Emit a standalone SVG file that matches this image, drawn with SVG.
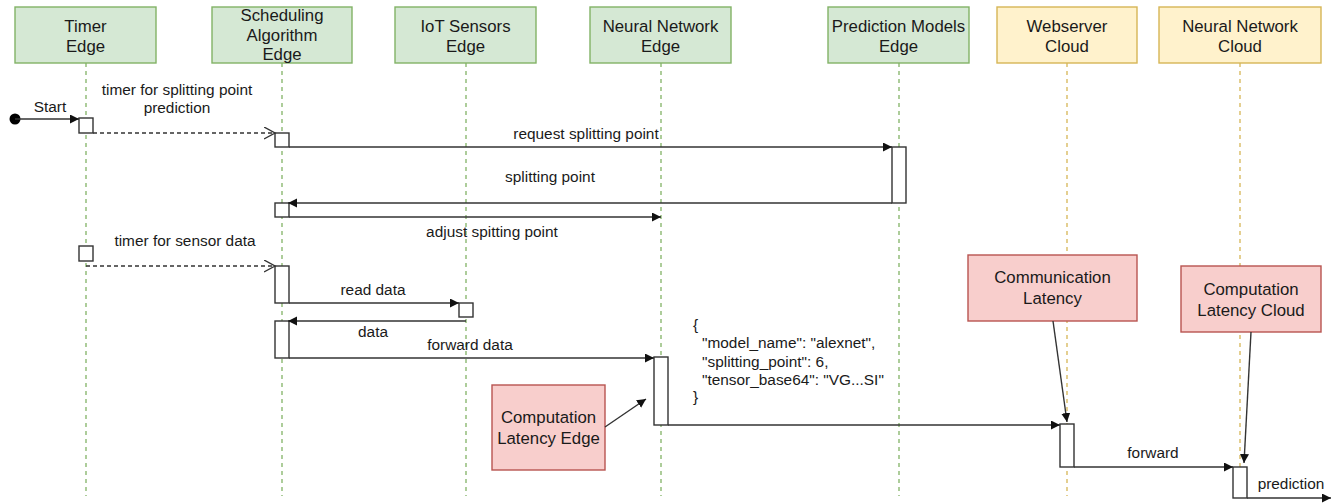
<svg xmlns="http://www.w3.org/2000/svg" width="1332" height="504" viewBox="0 0 1332 504">
<style>
text{font-family:"Liberation Sans",Arial,Helvetica,sans-serif;fill:#1a1a1a;text-anchor:middle}
.h{font-size:16.8px}
.l{font-size:15.4px}
.j{font-size:15.4px;text-anchor:start}
.ge{fill:#d5e8d4;stroke:#82b366;stroke-width:1.4}
.yc{fill:#fff2cc;stroke:#d6b656;stroke-width:1.4}
.rd{fill:#f8cecc;stroke:#b85450;stroke-width:1.4}
.lg{stroke:#82b366;stroke-width:1.3;stroke-dasharray:4 4;fill:none}
.ly{stroke:#d6b656;stroke-width:1.3;stroke-dasharray:4 4;fill:none}
.act{fill:#fff;stroke:#333;stroke-width:1.4}
.m{stroke:#333;stroke-width:1.4;fill:none;marker-end:url(#blk)}
.d{stroke:#333;stroke-width:1.4;fill:none;stroke-dasharray:4 3;marker-end:url(#opn)}
</style>
<defs>
<marker id="blk" markerUnits="userSpaceOnUse" markerWidth="10" markerHeight="10" refX="9" refY="4.5" orient="auto">
<path d="M0,0 L9,4.5 L0,9 Z" fill="#111"/>
</marker>
<marker id="opn" markerUnits="userSpaceOnUse" markerWidth="14" markerHeight="14" refX="11" refY="6.5" orient="auto">
<path d="M0,0.5 L11,6.5 L0,12.5" fill="none" stroke="#333" stroke-width="1.4"/>
</marker>
</defs>
<rect width="1332" height="504" fill="#fff"/>

<g id="timer-edge">
<line class="lg" x1="86" y1="63" x2="86" y2="496"/>
<rect class="ge" x="15" y="7" width="141" height="56"/>
<text class="h" x="85.5" y="32">Timer</text>
<text class="h" x="85.5" y="51.5">Edge</text>
</g>
<g id="scheduling-edge">
<line class="lg" x1="282" y1="63" x2="282" y2="496"/>
<rect class="ge" x="212" y="7" width="140" height="56"/>
<text class="h" x="282" y="21">Scheduling</text>
<text class="h" x="282" y="40.5">Algorithm</text>
<text class="h" x="282" y="60">Edge</text>
</g>
<g id="iot-edge">
<line class="lg" x1="466" y1="63" x2="466" y2="496"/>
<rect class="ge" x="395" y="7" width="141" height="56"/>
<text class="h" x="465.5" y="32">IoT Sensors</text>
<text class="h" x="465.5" y="51.5">Edge</text>
</g>
<g id="nn-edge">
<line class="lg" x1="661" y1="63" x2="661" y2="496"/>
<rect class="ge" x="590" y="7" width="141" height="56"/>
<text class="h" x="660.5" y="32">Neural Network</text>
<text class="h" x="660.5" y="51.5">Edge</text>
</g>
<g id="prediction-edge">
<line class="lg" x1="899" y1="63" x2="899" y2="496"/>
<rect class="ge" x="828" y="7" width="141" height="56"/>
<text class="h" x="898.5" y="32">Prediction Models</text>
<text class="h" x="898.5" y="51.5">Edge</text>
</g>
<g id="webserver-cloud">
<line class="ly" x1="1067" y1="63" x2="1067" y2="496"/>
<rect class="yc" x="997" y="7" width="140" height="56"/>
<text class="h" x="1067" y="32">Webserver</text>
<text class="h" x="1067" y="51.5">Cloud</text>
</g>
<g id="nn-cloud">
<line class="ly" x1="1240" y1="63" x2="1240" y2="496"/>
<rect class="yc" x="1159" y="7" width="162" height="56"/>
<text class="h" x="1240" y="32">Neural Network</text>
<text class="h" x="1240" y="51.5">Cloud</text>
</g>

<g id="activations">
<rect class="act" x="79" y="118" width="14" height="15"/>
<rect class="act" x="275" y="133" width="14" height="14"/>
<rect class="act" x="892" y="147" width="14" height="56"/>
<rect class="act" x="275" y="203" width="14" height="14"/>
<rect class="act" x="79" y="246" width="14" height="15"/>
<rect class="act" x="275" y="266" width="14" height="37"/>
<rect class="act" x="459" y="303" width="14" height="14"/>
<rect class="act" x="275" y="321" width="14" height="37"/>
<rect class="act" x="654" y="357" width="14" height="68"/>
<rect class="act" x="1060" y="424" width="14" height="43"/>
<rect class="act" x="1233" y="467" width="14" height="31"/>
</g>

<g id="note-comp-edge">
<rect class="rd" x="492" y="385" width="113" height="85"/>
<text class="h" x="548.5" y="423">Computation</text>
<text class="h" x="548.5" y="444">Latency Edge</text>
</g>
<g id="note-comm">
<rect class="rd" x="968" y="255" width="169" height="66"/>
<text class="h" x="1052.5" y="283">Communication</text>
<text class="h" x="1052.5" y="304">Latency</text>
</g>
<g id="note-comp-cloud">
<rect class="rd" x="1181" y="266" width="140" height="66"/>
<text class="h" x="1251" y="295">Computation</text>
<text class="h" x="1251" y="316">Latency Cloud</text>
</g>

<g id="json">
<text class="j" x="693" y="330">{</text>
<text class="j" x="702" y="348">"model_name": "alexnet",</text>
<text class="j" x="702" y="366.5">"splitting_point": 6,</text>
<text class="j" x="702" y="385">"tensor_base64": "VG...SI"</text>
<text class="j" x="693" y="402">}</text>
</g>

<g id="connectors">
<circle cx="15" cy="119" r="5.5" fill="#000"/>
<line class="m" x1="15" y1="119" x2="79" y2="119"/>
<text class="l" x="50" y="112">Start</text>
<line class="d" x1="93" y1="133" x2="275" y2="133"/>
<text class="l" x="177" y="95">timer for splitting point</text>
<text class="l" x="177" y="113">prediction</text>
<line class="m" x1="289" y1="147" x2="892" y2="147"/>
<text class="l" x="586" y="139">request splitting point</text>
<line class="m" x1="892" y1="203" x2="288" y2="203"/>
<text class="l" x="550" y="182">splitting point</text>
<line class="m" x1="289" y1="217" x2="661" y2="217"/>
<text class="l" x="492" y="237">adjust spitting point</text>
<line class="d" x1="86" y1="266" x2="275" y2="266"/>
<text class="l" x="185" y="246">timer for sensor data</text>
<line class="m" x1="289" y1="303" x2="459" y2="303"/>
<text class="l" x="373" y="295">read data</text>
<line class="m" x1="466" y1="321" x2="288" y2="321"/>
<text class="l" x="373" y="337">data</text>
<line class="m" x1="289" y1="358" x2="654" y2="358"/>
<text class="l" x="470" y="350">forward data</text>
<line class="m" x1="668" y1="425" x2="1060" y2="425"/>
<line class="m" x1="1074" y1="467" x2="1233" y2="467"/>
<text class="l" x="1153" y="458">forward</text>
<line class="m" x1="1247" y1="498" x2="1331" y2="498"/>
<text class="l" x="1291" y="489">prediction</text>
<line class="m" x1="605" y1="427" x2="646" y2="399"/>
<line class="m" x1="1053" y1="321" x2="1067" y2="422"/>
<line class="m" x1="1251" y1="332" x2="1244" y2="463"/>
</g>
</svg>
